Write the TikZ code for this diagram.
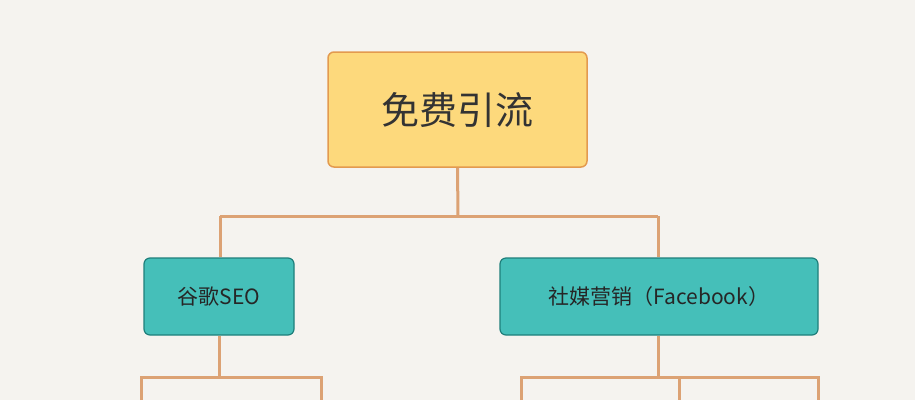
\documentclass[tikz,border=0pt]{standalone}
\usepackage{fontspec}
\newfontfamily\cjk{Noto Sans CJK SC}
\definecolor{bg}{HTML}{F5F3EF}
\definecolor{topfill}{HTML}{FDD97C}
\definecolor{topline}{HTML}{E39A4F}
\definecolor{tealfill}{HTML}{45BFB9}
\definecolor{tealline}{HTML}{1E7F7B}
\definecolor{conn}{HTML}{DCA274}
\begin{document}
\begin{tikzpicture}[x=1pt,y=-1pt,
  topbox/.style={draw=topline,fill=topfill,line width=1.5pt,rounded corners=6pt,minimum width=259pt,minimum height=115pt,font=\cjk\fontsize{38}{44}\selectfont,text=black!80},
  subbox/.style={draw=tealline,fill=tealfill,line width=1.2pt,rounded corners=6pt,minimum height=77pt,font=\cjk\fontsize{21}{24}\selectfont,text=black!85},
  link/.style={draw=conn,line width=3pt}]
\fill[bg] (0,0) rectangle (915,400);
\useasboundingbox (0,0) rectangle (915,400);
\node[topbox] (top) at (457.5,109.5) {免费引流};
\node[subbox,minimum width=150pt] (seo) at (219,296.5) {谷歌SEO};
\node[subbox,minimum width=318pt] (sm) at (659,296.5) {社媒营销（Facebook）};
\coordinate (j1) at (458,216);
\draw[link] (top.south) -- (j1);
\draw[link] (220,216) -- (658,216);
\draw[link] (220,216) -- (seo.north -| 220,0);
\draw[link] (658,216) -- (sm.north -| 658,0);
\coordinate (l1) at (141,400); \coordinate (l2) at (321,400);
\draw[link] (seo.south -| 219,0) -- (219,377);
\draw[link] (l1) -- (141,377) -- (321,377) -- (l2);
\coordinate (r1) at (521,400); \coordinate (r2) at (679,400); \coordinate (r3) at (818,400);
\draw[link] (sm.south -| 658,0) -- (658,377);
\draw[link] (r1) -- (521,377) -- (818,377) -- (r3);
\draw[link] (679,377) -- (r2);
\end{tikzpicture}
\end{document}
